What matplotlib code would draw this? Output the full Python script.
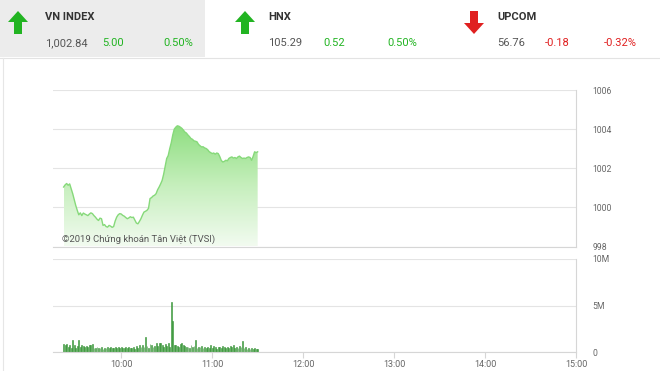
import numpy as np
import matplotlib
matplotlib.use("Agg")
import matplotlib.pyplot as plt
from matplotlib.patches import Rectangle, Polygon
from matplotlib.colors import LinearSegmentedColormap

plt.rcParams['font.family'] = ['Roboto', 'DejaVu Sans']

# ---------------- data ----------------
start_minute = 22  # minutes after 9:00
price = [1001.04, 1001.15, 1001.22, 1001.13, 1001.20, 1000.95, 1000.70, 1000.40, 1000.10, 999.85,
         999.62, 999.72, 999.58, 999.71, 999.66, 999.62, 999.58, 999.66, 999.72, 999.68,
         999.58, 999.50, 999.40, 999.33, 999.45, 999.42, 999.08, 999.12, 999.02, 998.99,
         999.08, 999.04, 998.98, 999.02, 999.30, 999.50, 999.62, 999.68, 999.66, 999.59,
         999.55, 999.48, 999.42, 999.46, 999.52, 999.48, 999.50, 999.35, 999.20, 999.16,
         999.28, 999.42, 999.60, 999.76, 999.80, 999.85, 999.95, 1000.45, 1000.50, 1000.58,
         1000.62, 1000.70, 1000.90, 1001.04, 1001.20, 1001.38, 1001.70, 1002.10, 1002.50, 1002.65,
         1003.00, 1003.30, 1003.70, 1004.00, 1004.10, 1004.17, 1004.15, 1004.10, 1004.04, 1003.95,
         1003.85, 1003.80, 1003.70, 1003.62, 1003.52, 1003.48, 1003.40, 1003.38, 1003.35, 1003.22,
         1003.15, 1003.09, 1003.10, 1003.04, 1003.01, 1002.95, 1002.85, 1002.80, 1002.75, 1002.78,
         1002.72, 1002.78, 1002.75, 1002.60, 1002.40, 1002.32, 1002.35, 1002.41, 1002.38, 1002.50,
         1002.55, 1002.58, 1002.52, 1002.55, 1002.50, 1002.58, 1002.62, 1002.55, 1002.50, 1002.52,
         1002.50, 1002.55, 1002.58, 1002.55, 1002.41, 1002.60, 1002.84, 1002.80, 1002.84]
volume_m = [0.85, 0.80, 0.85, 0.55, 0.70, 0.40, 1.25, 0.70, 0.45, 0.60,
            1.30, 0.55, 0.75, 0.60, 0.50, 0.65, 0.55, 0.70, 0.80, 0.85,
            0.40, 0.45, 0.50, 0.40, 0.45, 0.50, 0.35, 0.45, 0.40, 0.50,
            0.45, 0.55, 0.40, 0.45, 0.50, 0.40, 0.55, 0.45, 0.50, 0.40,
            0.45, 0.55, 0.40, 0.50, 0.45, 0.40, 0.55, 0.35, 0.60, 0.45,
            0.80, 0.50, 0.70, 0.55, 1.60, 0.60, 0.45, 0.90, 0.70, 0.55,
            0.65, 1.00, 0.60, 0.95, 1.00, 0.70, 0.55, 0.90, 0.60, 1.00,
            0.50, 5.40, 3.30, 0.70, 0.80, 0.65, 0.55, 0.85, 0.95, 0.70,
            0.60, 0.50, 0.55, 0.45, 0.70, 0.50, 0.60, 1.30, 0.45, 0.55,
            0.50, 0.60, 0.45, 0.55, 0.40, 0.50, 0.45, 0.70, 0.40, 0.60,
            0.55, 0.35, 0.50, 0.55, 0.45, 0.60, 0.50, 0.40, 0.55, 0.45,
            0.60, 0.50, 0.70, 0.40, 0.55, 0.45, 0.60, 0.50, 1.20, 0.45,
            0.55, 0.35, 0.40, 0.30, 0.45, 0.35, 0.40, 0.30, 0.35]
minutes = np.arange(start_minute, start_minute + len(price))

price_ticks = [998, 1000, 1002, 1004, 1006]
vol_ticks = [0, 5, 10]
vol_tick_labels = ["0", "5M", "10M"]
time_ticks = [60, 120, 180, 240, 300, 360]
time_labels = ["10:00", "11:00", "12:00", "13:00", "14:00", "15:00"]

indices = ["VN INDEX", "HNX", "UPCOM"]
index_values = ["1,002.84", "105.29", "56.76"]
index_changes = ["5.00", "0.52", "-0.18"]
index_pcts = ["0.50%", "0.50%", "-0.32%"]
index_up = [True, True, False]

# ---------------- figure ----------------
W, H = 660, 371
fig = plt.figure(figsize=(W / 100, H / 100), dpi=100)
fig.patch.set_facecolor("white")


def fx(px):
    return px / W


def fy(py):
    return 1 - py / H


# header
fig.patches.append(Rectangle((0, fy(57)), fx(205), 57 / H, transform=fig.transFigure,
                             facecolor="#ececec", edgecolor="none", zorder=0))
fig.add_artist(plt.Line2D([fx(0), fx(660)], [fy(57.5), fy(57.5)], transform=fig.transFigure,
                          color="#e3e3e3", lw=0.8))
fig.add_artist(plt.Line2D([fx(2.5), fx(2.5)], [fy(57.5), fy(371)], transform=fig.transFigure,
                          color="#e6e6e6", lw=0.8))

green = "#22b422"
red = "#e02020"
arrow_x = [18, 245, 474]
text_x = [45, 268, 497]
chg_x = [102, 323, 545]
pct_x = [163, 387, 604]


def arrow(cx, up, color):
    # arrow shape in pixels: head triangle + shaft
    if up:
        pts = [(cx, 11), (cx + 10, 22), (cx + 4, 22), (cx + 4, 34), (cx - 4, 34), (cx - 4, 22), (cx - 10, 22)]
    else:
        pts = [(cx, 34), (cx + 10, 23), (cx + 4, 23), (cx + 4, 11), (cx - 4, 11), (cx - 4, 23), (cx - 10, 23)]
    fig.patches.append(Polygon([(fx(a), fy(b)) for a, b in pts], closed=True,
                               transform=fig.transFigure, facecolor=color, edgecolor="none"))


for i in range(3):
    col = green if index_up[i] else red
    arrow(arrow_x[i], index_up[i], col)
    fig.text(fx(text_x[i]), fy(17), indices[i], fontsize=8, fontweight="bold",
             color="#333333", va="center", ha="left")
    fig.text(fx(text_x[i]), fy(43), index_values[i], fontsize=8, color="#555555",
             va="center", ha="left")
    fig.text(fx(chg_x[i]), fy(43), index_changes[i], fontsize=8, color=col,
             va="center", ha="left")
    fig.text(fx(pct_x[i]), fy(43), index_pcts[i], fontsize=8, color=col,
             va="center", ha="left")

# ---------------- axes ----------------
L, R = 53, 576
ax1 = fig.add_axes([fx(L), fy(246.5), fx(R - L), (246.5 - 90) / H])
ax2 = fig.add_axes([fx(L), fy(352), fx(R - L), (352 - 259) / H])

grid_c = "#e4e4e4"
spine_c = "#d6d6d6"
tick_c = "#666666"

for ax in (ax1, ax2):
    ax.set_xlim(15, 360)
    ax.set_facecolor("none")
    for s in ("left", "top"):
        ax.spines[s].set_visible(False)
    for s in ("right", "bottom"):
        ax.spines[s].set_color(spine_c)
        ax.spines[s].set_linewidth(0.8)
    ax.yaxis.tick_right()
    ax.tick_params(axis="y", length=0, labelsize=6.2, labelcolor=tick_c, pad=12)
    ax.grid(axis="y", color=grid_c, lw=0.8)
    ax.set_axisbelow(True)

# price
ax1.set_ylim(998, 1006)
ax1.set_yticks(price_ticks)
ax1.set_yticklabels([str(t) for t in price_ticks])
ax1.set_xticks([])

cmap = LinearSegmentedColormap.from_list("g", ["#f2fbf0", "#c6efbd", "#8ede80"])
grad = np.linspace(0, 1, 256).reshape(-1, 1)
im = ax1.imshow(grad, aspect="auto", cmap=cmap, origin="lower",
                extent=[minutes[0], minutes[-1], 998, max(price)], zorder=1)
poly = ax1.fill_between(minutes, price, 998, color="none", lw=0)
im.set_clip_path(poly.get_paths()[0], transform=ax1.transData)
ax1.plot(minutes, price, color="#86d97a", lw=1.0, zorder=2)
fig.text(fx(62), fy(239), "©2019 Chứng khoán Tân Việt (TVSI)", fontsize=6.8, color="#555555",
         ha="left", va="center", zorder=5)

# volume
ax2.set_ylim(0, 10)
ax2.bar(minutes, volume_m, width=0.55, color="#5cb85c", edgecolor="#2e8b2e", lw=0.4, zorder=2)
ax2.set_yticks(vol_ticks)
ax2.set_yticklabels(vol_tick_labels)
ax2.set_xticks(time_ticks)
ax2.set_xticklabels(time_labels)
ax2.tick_params(axis="x", length=4, color=spine_c, labelsize=6.5, labelcolor=tick_c, pad=2)

fig.savefig("out.png", dpi=100)
